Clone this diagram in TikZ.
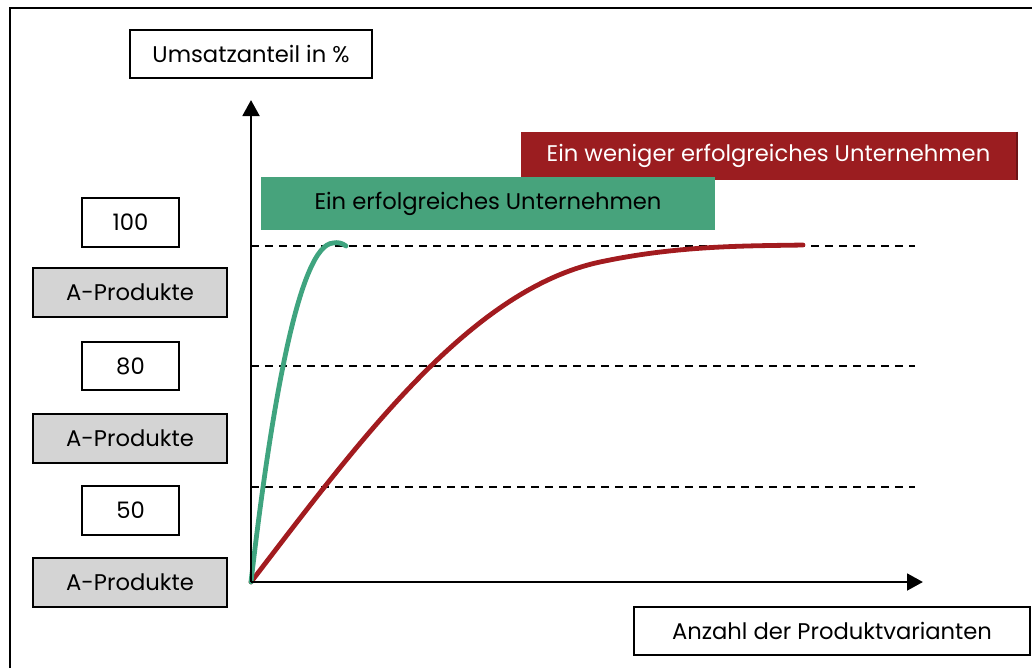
\documentclass[tikz,border=0pt]{standalone}
\usepackage{fontspec}
\setmainfont{Poppins}
\usetikzlibrary{arrows.meta}

\definecolor{goodgreen}{HTML}{47A37C}
\definecolor{goodcurve}{HTML}{3FA47F}
\definecolor{weakred}{HTML}{9B1D20}
\definecolor{weakcurve}{HTML}{A21B1F}
\definecolor{boxgray}{HTML}{D4D4D4}

\tikzset{
  lbl/.style={draw=black, line width=1.5pt, inner sep=0pt, font=\fontsize{17}{20}\selectfont},
  valbox/.style={lbl, fill=white, minimum width=72.75pt, minimum height=36.5pt},
  catbox/.style={lbl, fill=boxgray, minimum width=145.5pt, minimum height=36.75pt},
  banner/.style={inner sep=0pt, font=\fontsize{17}{20}\selectfont},
  axis/.style={line width=2.2pt, -{Triangle[length=12pt,width=12.5pt]}},
  level/.style={line width=1.1pt, dash pattern=on 6pt off 4.5pt},
  curve/.style={line width=3.6pt, line cap=round, line join=round}
}

\begin{document}
\begin{tikzpicture}[x=0.75pt, y=-0.75pt]
  \useasboundingbox (0,0) rectangle (1032,668);

  % page frame (top and left edges)
  \draw[line width=1.6pt] (10,668) -- (10,8) -- (1032,8);

  % axis labels
  \node[lbl, minimum width=181.5pt, minimum height=36pt] (ylabel) at (251,54) {Umsatzanteil in \%};
  \node[lbl, minimum width=297pt, minimum height=36pt] (xlabel) at (832,631) {Anzahl der Produktvarianten};

  % axes
  \coordinate (origin) at (251,582);
  \coordinate (ytip) at (251,100);
  \coordinate (xtip) at (923,582);

  % level lines at 100, 80 and 50 percent
  \coordinate (l100a) at (251,246); \coordinate (l100b) at (915,246);
  \coordinate (l80a)  at (251,366); \coordinate (l80b)  at (915,366);
  \coordinate (l50a)  at (251,487); \coordinate (l50b)  at (915,487);
  \draw[level] (l100a) -- (l100b);
  \draw[level] (l80a) -- (l80b);
  \draw[level] (l50a) -- (l50b);

  % legend banners
  \node[banner, fill=weakred, text=white, minimum width=372pt, minimum height=36pt] (weak) at (768.5,156) {Ein weniger erfolgreiches Unternehmen};
  \draw[line width=1.2pt, weakred!70!black] (weak.north east) -- (weak.south east);
  \node[banner, fill=goodgreen, text=black, minimum width=340pt, minimum height=39.75pt] (good) at (488,203.5) {Ein erfolgreiches Unternehmen};

  % saturation curves: slow growth (red) and fast growth (green)
  \coordinate (weakmid) at (600,262);
  \coordinate (weakend) at (803,245);
  \draw[curve, weakcurve] (origin)
    .. controls (360,440) and (470,290) .. (weakmid)
    .. controls (680,245) and (750,246) .. (weakend);
  \coordinate (goodtop) at (333,243);
  \coordinate (goodend) at (346,246);
  \draw[curve, goodcurve] (origin)
    .. controls (272,400) and (300,245) .. (goodtop)
    .. controls (338,242) and (342,243) .. (goodend);

  \draw[axis] (origin) -- (ytip);
  \draw[axis] (origin) -- (xtip);

  % scale labels
  \node[valbox] (v100) at (130.5,222.5) {100};
  \node[catbox] (c100) at (130,292.5) {A-Produkte};
  \node[valbox] (v80)  at (130.5,366) {80};
  \node[catbox] (c80)  at (130,438) {A-Produkte};
  \node[valbox] (v50)  at (130.5,510.5) {50};
  \node[catbox] (c50)  at (130,582.5) {A-Produkte};
\end{tikzpicture}
\end{document}
